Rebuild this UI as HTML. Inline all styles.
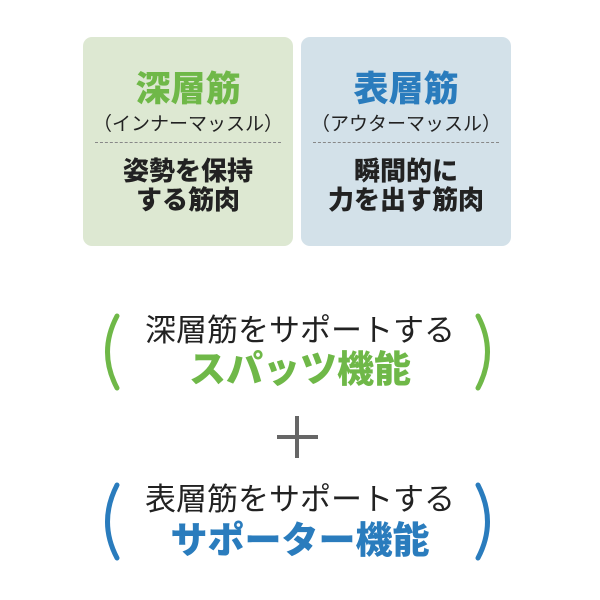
<!DOCTYPE html>
<html><head><meta charset="utf-8"><style>
body{margin:0;width:600px;height:600px;background:#fff;position:relative;overflow:hidden;font-family:"Liberation Sans","Noto Sans CJK JP",sans-serif}
.box{position:absolute;top:37px;width:210px;height:209px;border-radius:9px}
.t{position:absolute;left:0;width:100%;text-align:center;white-space:nowrap}
.h{top:33px;font-size:35px;font-weight:900;line-height:40px}
.s{top:76px;font-size:19px;line-height:24px;color:#222}
.d{position:absolute;left:12px;right:12px;top:105px;border-top:1px dashed #888}
.b{font-size:26px;font-weight:900;line-height:29px;color:#222;top:120px}
.l{position:absolute;left:0;width:600px;text-align:center;white-space:nowrap}
.l1{font-size:31px;color:#222;line-height:36px}
.l2{font-size:37px;font-weight:900;line-height:42px}
</style></head><body>
<div class="box" style="left:83px;background:#dde8d2">
<div class="t h" style="color:#6fb848">深層筋</div>
<div class="t s">（インナーマッスル）</div>
<div class="d"></div>
<div class="t b">姿勢を保持<br>する筋肉</div>
</div>
<div class="box" style="left:301px;background:#d3e1e9">
<div class="t h" style="color:#2a7cbd">表層筋</div>
<div class="t s">（アウターマッスル）</div>
<div class="d"></div>
<div class="t b">瞬間的に<br>力を出す筋肉</div>
</div>
<svg width="600" height="600" style="position:absolute;left:0;top:0">
<g fill="none" stroke-width="5" stroke-linecap="round">
<path d="M117 316 Q98 352 117 388" stroke="#6fb848"/>
<path d="M478 316 Q497 352 478 388" stroke="#6fb848"/>
<path d="M117 485 Q98 522 117 558" stroke="#2a7cbd"/>
<path d="M478 485 Q497 522 478 558" stroke="#2a7cbd"/>
</g>
<g stroke="#666" stroke-width="4"><line x1="277" y1="437" x2="318" y2="437"/><line x1="297" y1="416" x2="297" y2="458"/></g>
</svg>
<div class="l l1" style="top:313px">深層筋をサポートする</div>
<div class="l l2" style="top:349px;color:#6fb848">スパッツ機能</div>
<div class="l l1" style="top:482px">表層筋をサポートする</div>
<div class="l l2" style="top:520px;color:#2a7cbd">サポーター機能</div>
</body></html>
